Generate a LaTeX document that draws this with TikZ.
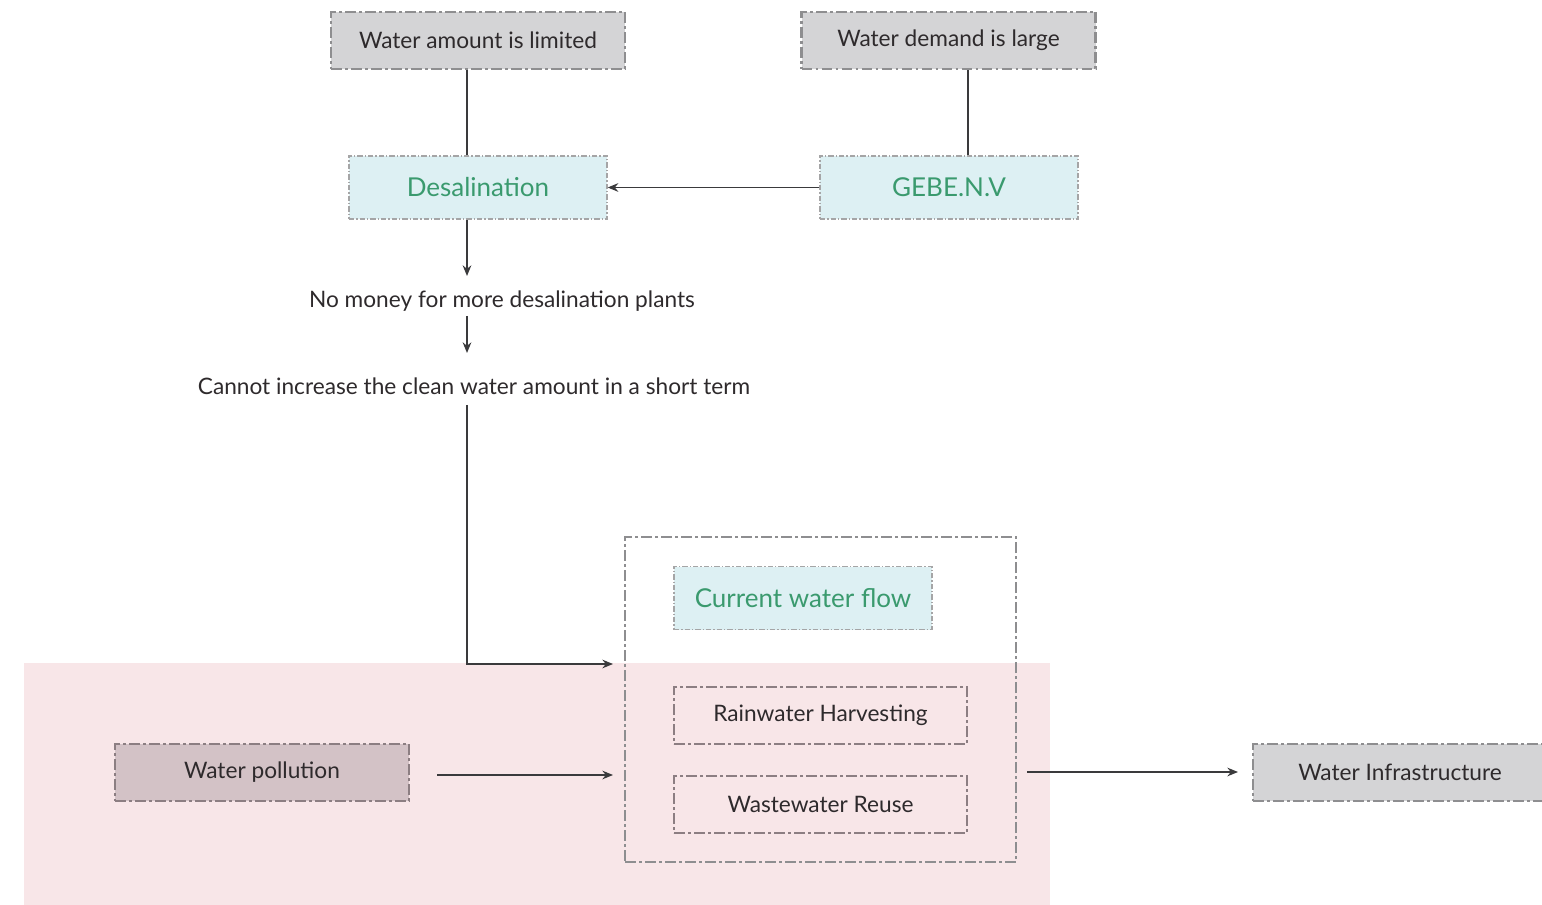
\documentclass[tikz,border=0pt]{standalone}
\usepackage{fontspec}
\setmainfont{Lato}
\usetikzlibrary{arrows.meta}
\definecolor{boxgray}{HTML}{D4D4D6}
\definecolor{edgegray}{HTML}{8E8E90}
\definecolor{cyanfill}{HTML}{DDF0F3}
\definecolor{greentext}{HTML}{3A9A6E}
\definecolor{inktext}{HTML}{2E2A2C}
\definecolor{pinkzone}{HTML}{F8E6E8}
\definecolor{mauvefill}{HTML}{D3C2C6}
\definecolor{mauveedge}{HTML}{8C7E82}
\definecolor{lineink}{HTML}{3A3A3C}
\tikzset{
  dashdot/.style={dash pattern=on 8pt off 2.5pt on 2pt off 2.5pt},
  graybox/.style={draw=edgegray, fill=boxgray, line width=2pt, dashdot,
    minimum width=220.5pt, minimum height=42.75pt, inner sep=0pt,
    text=inktext, font=\fontsize{17}{20}\selectfont},
  cyanbox/.style={draw=edgegray!80, fill=cyanfill, line width=1pt,
    dash pattern=on 4pt off 1.5pt on 1pt off 1.5pt,
    minimum width=193.5pt, minimum height=47.25pt, inner sep=0pt,
    text=greentext, font=\fontsize{19.5}{23}\selectfont},
  openbox/.style={draw=mauveedge, line width=2pt, dashdot,
    minimum width=219.75pt, minimum height=42.75pt, inner sep=0pt,
    text=inktext, font=\fontsize{17}{20}\selectfont},
  plaintext/.style={text=inktext, font=\fontsize{17}{20}\selectfont, inner sep=0pt},
  conn/.style={draw=lineink, line width=1.1pt},
  arr/.style={conn, -{Stealth[length=8pt, width=6.5pt]}},
}
\begin{document}
\begin{tikzpicture}[x=0.75pt, y=-0.75pt]
  \useasboundingbox (0,0) rectangle (1542,905);
  \clip (0,0) rectangle (1542,905);

  % shaded zone behind the lower part
  \fill[pinkzone] (24,663) rectangle (1050,905);

  % top row
  \node[graybox] (limited) at (478,40.5) {Water amount is limited};
  \node[graybox] (demand) at (948.5,40.5) {Water demand is large};

  % second row
  \node[cyanbox] (desal) at (478,187.5) {Desalination};
  \node[cyanbox] (gebe) at (949,187.5) {GEBE.N.V};

  % free text steps
  \node[plaintext] (nomoney) at (502,301) {No money for more desalination plants};
  \node[plaintext] (cannot) at (474,386) {Cannot increase the clean water amount in a short term};

  % group of solutions
  \node[draw=edgegray, line width=2pt, dashdot, minimum width=293.25pt,
        minimum height=243.75pt, inner sep=0pt] (group) at (820.5,699.5) {};
  \node[cyanbox] (flow) at (803,598) {Current water flow};
  \node[openbox] (rain) at (820.5,715.5) {Rainwater Harvesting};
  \node[openbox] (reuse) at (820.5,804.5) {Wastewater Reuse};

  % side boxes
  \node[graybox, fill=mauvefill, draw=mauveedge] (pollution) at (262,772.5) {Water pollution};
  \node[graybox] (infra) at (1400,772.5) {Water Infrastructure};

  % connectors
  \coordinate (c1) at (467,276);
  \coordinate (c2) at (467,316);
  \coordinate (c3) at (467,353);
  \coordinate (c4) at (467,405);
  \coordinate (c5) at (613,664);
  \coordinate (c6) at (437,775);
  \coordinate (c7) at (613,775);
  \coordinate (c8) at (1027,772);
  \coordinate (c9) at (1238,772);

  \draw[conn] (limited.south -| c1) -- (desal.north -| c1);
  \draw[conn] (demand.south -| 968,0) -- (gebe.north -| 968,0);
  \draw[arr] (gebe.west) -- (desal.east);
  \draw[arr] (desal.south -| c1) -- (c1);
  \draw[arr] (c2) -- (c3);
  \draw[arr] (c4) |- (c5);
  \draw[arr] (c6) -- (c7);
  \draw[arr] (c8) -- (c9);
\end{tikzpicture}
\end{document}
